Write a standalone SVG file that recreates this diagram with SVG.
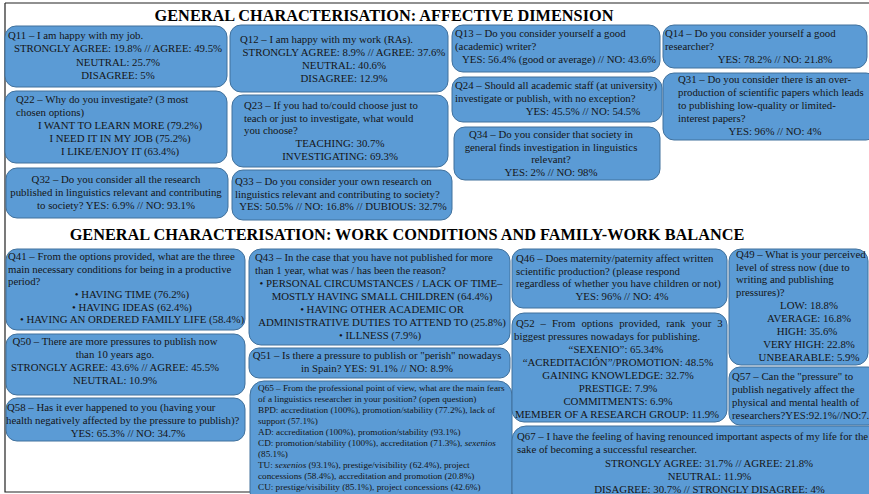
<svg xmlns="http://www.w3.org/2000/svg" width="869" height="494" viewBox="0 0 869 494">
<style>
.b{fill:#5b9bd5;stroke:#41719c;stroke-width:1}
text{font-family:"Liberation Serif","Times New Roman",serif;fill:#151515;font-size:10.8px}
.c{text-anchor:middle}
.s{font-size:9.2px}
.t{font-size:16.3px;font-weight:bold;text-anchor:middle;fill:#000}
.i{font-style:italic}
.fr{fill:none;stroke:#222;stroke-width:1.2}
</style>
<rect width="869" height="494" fill="#fff"/>
<path class="fr" d="M5,3 H869 M5,3 V492 H252"/>
<text class="t" x="384" y="21">GENERAL CHARACTERISATION: AFFECTIVE DIMENSION</text>
<text class="t" x="407" y="240">GENERAL CHARACTERISATION: WORK CONDITIONS AND FAMILY-WORK BALANCE</text>

<g id="Q11"><rect class="b" x="5" y="26" width="222" height="61" rx="11"/>
<text x="8" y="39">Q11 – I am happy with my job.</text>
<text class="c" x="118" y="52">STRONGLY AGREE: 19.8% // AGREE: 49.5%</text>
<text class="c" x="118" y="65.5">NEUTRAL: 25.7%</text>
<text class="c" x="118" y="78.5">DISAGREE: 5%</text></g>

<g id="Q22"><rect class="b" x="5" y="91" width="222" height="72" rx="11"/>
<text x="16" y="103">Q22 – Why do you investigate? (3 most</text>
<text x="16" y="116">chosen options)</text>
<text class="c" x="120" y="129">I WANT TO LEARN MORE (79.2%)</text>
<text class="c" x="120" y="142">I NEED IT IN MY JOB (75.2%)</text>
<text class="c" x="120" y="155">I LIKE/ENJOY IT (63.4%)</text></g>

<g id="Q32"><rect class="b" x="6" y="168" width="222" height="50" rx="11"/>
<text class="c" x="116" y="183">Q32 – Do you consider all the research</text>
<text class="c" x="116" y="196">published in linguistics relevant and contributing</text>
<text class="c" x="116" y="209">to society? YES: 6.9% // NO: 93.1%</text></g>

<g id="Q12"><rect class="b" x="230" y="25" width="218" height="67" rx="11"/>
<text x="240" y="43">Q12 – I am happy with my work (RAs).</text>
<text class="c" x="344" y="56">STRONGLY AGREE: 8.9% // AGREE: 37.6%</text>
<text class="c" x="344" y="69">NEUTRAL: 40.6%</text>
<text class="c" x="344" y="82">DISAGREE: 12.9%</text></g>

<g id="Q23"><rect class="b" x="232" y="95" width="216" height="72" rx="11"/>
<text x="244" y="109">Q23 – If you had to/could choose just to</text>
<text x="244" y="121.5">teach or just to investigate, what would</text>
<text x="244" y="134">you choose?</text>
<text class="c" x="340" y="147">TEACHING: 30.7%</text>
<text class="c" x="340" y="160">INVESTIGATING: 69.3%</text></g>

<g id="Q33"><rect class="b" x="232" y="170" width="220" height="50" rx="11"/>
<text x="235" y="185">Q33 – Do you consider your own research on</text>
<text x="235" y="197.5">linguistics relevant and contributing to society?</text>
<text class="c" x="343" y="210">YES: 50.5% // NO: 16.8% // DUBIOUS: 32.7%</text></g>

<g id="Q13"><rect class="b" x="452" y="25" width="208" height="47" rx="11"/>
<text x="455" y="37">Q13 – Do you consider yourself a good</text>
<text x="455" y="50">(academic) writer?</text>
<text class="c" x="559" y="63">YES: 56.4% (good or average) // NO: 43.6%</text></g>

<g id="Q24"><rect class="b" x="452" y="77" width="210" height="45" rx="11"/>
<text x="455" y="89">Q24 – Should all academic staff (at university)</text>
<text x="455" y="102">investigate or publish, with no exception?</text>
<text class="c" x="583" y="115">YES: 45.5% // NO: 54.5%</text></g>

<g id="Q34"><rect class="b" x="454" y="127" width="206" height="53" rx="11"/>
<text class="c" x="551" y="138">Q34 – Do you consider that society in</text>
<text class="c" x="551" y="150.5">general finds investigation in linguistics</text>
<text class="c" x="551" y="163">relevant?</text>
<text class="c" x="551" y="176">YES: 2% // NO: 98%</text></g>

<g id="Q14"><rect class="b" x="663" y="25" width="204" height="43" rx="11"/>
<text x="665" y="37">Q14 – Do you consider yourself a good</text>
<text x="665" y="50">researcher?</text>
<text class="c" x="775" y="63">YES: 78.2% // NO: 21.8%</text></g>

<g id="Q31"><rect class="b" x="663" y="73" width="214" height="67" rx="11"/>
<text x="678" y="83">Q31 – Do you consider there is an over-</text>
<text x="678" y="96">production of scientific papers which leads</text>
<text x="678" y="109">to publishing low-quality or limited-</text>
<text x="678" y="122">interest papers?</text>
<text class="c" x="775" y="135">YES: 96% // NO: 4%</text></g>

<g id="Q41"><rect class="b" x="6" y="249" width="239" height="81" rx="11"/>
<text x="8" y="260">Q41 – From the options provided, what are the three</text>
<text x="8" y="272.7">main necessary conditions for being in a productive</text>
<text x="8" y="285.4">period?</text>
<text class="c" x="132" y="298">• HAVING TIME (76.2%)</text>
<text class="c" x="132" y="310.7">• HAVING IDEAS (62.4%)</text>
<text class="c" x="132" y="323.4">• HAVING AN ORDERED FAMILY LIFE (58.4%)</text></g>

<g id="Q50"><rect class="b" x="6" y="334" width="239" height="61" rx="11"/>
<text class="c" x="115" y="345">Q50 – There are more pressures to publish now</text>
<text class="c" x="115" y="358">than 10 years ago.</text>
<text class="c" x="115" y="371">STRONGLY AGREE: 43.6% // AGREE: 45.5%</text>
<text class="c" x="115" y="384">NEUTRAL: 10.9%</text></g>

<g id="Q58"><rect class="b" x="6" y="398" width="239" height="43" rx="11"/>
<text x="7" y="411">Q58 – Has it ever happened to you (having your</text>
<text x="6" y="424">health negatively affected by the pressure to publish)?</text>
<text class="c" x="128" y="437">YES: 65.3% // NO: 34.7%</text></g>

<g id="Q43"><rect class="b" x="249" y="249" width="261" height="96" rx="12"/>
<text x="255" y="261">Q43 – In the case that you have not published for more</text>
<text x="255" y="274">than 1 year, what was / has been the reason?</text>
<text class="c" x="381" y="287">• PERSONAL CIRCUMSTANCES / LACK OF TIME–</text>
<text class="c" x="382" y="300">MOSTLY HAVING SMALL CHILDREN (64.4%)</text>
<text class="c" x="382" y="313">• HAVING OTHER ACADEMIC OR</text>
<text class="c" x="382" y="326">ADMINISTRATIVE DUTIES TO ATTEND TO (25.8%)</text>
<text class="c" x="380" y="339">• ILLNESS (7.9%)</text></g>

<g id="Q51"><rect class="b" x="249" y="348" width="261" height="30" rx="10"/>
<text class="c" x="377" y="359">Q51 – Is there a pressure to publish or "perish" nowadays</text>
<text class="c" x="377" y="372">in Spain? YES: 91.1% // NO: 8.9%</text></g>

<g id="Q65"><rect class="b" x="250" y="381" width="262" height="125" rx="14"/>
<text class="s" x="258" y="391">Q65 – From the professional point of view, what are the main fears</text>
<text class="s" x="258" y="402">of a linguistics researcher in your position? (open question)</text>
<text class="s" x="258" y="413">BPD: accreditation (100%), promotion/stability (77.2%), lack of</text>
<text class="s" x="258" y="424">support (57.1%)</text>
<text class="s" x="258" y="435">AD: accreditation (100%), promotion/stability (93.1%)</text>
<text class="s" x="258" y="446">CD: promotion/stability (100%), accreditation (71.3%), <tspan class="i">sexenios</tspan></text>
<text class="s" x="258" y="456.5">(85.1%)</text>
<text class="s" x="258" y="467.5">TU: <tspan class="i">sexenios</tspan> (93.1%), prestige/visibility (62.4%), project</text>
<text class="s" x="258" y="478.5">concessions (58.4%), accreditation and promotion (20.8%)</text>
<text class="s" x="258" y="489.5">CU: prestige/visibility (85.1%), project concessions (42.6%)</text></g>

<g id="Q46"><rect class="b" x="512" y="249" width="215" height="59" rx="11"/>
<text x="516" y="262">Q46 – Does maternity/paternity affect written</text>
<text x="516" y="274.5">scientific production? (please respond</text>
<text x="516" y="287">regardless of whether you have children or not)</text>
<text class="c" x="622" y="300">YES: 96% // NO: 4%</text></g>

<g id="Q52"><rect class="b" x="512" y="313" width="215" height="109" rx="12"/>
<text x="516" y="327" word-spacing="3.3">Q52 – From options provided, rank your 3</text>
<text x="514" y="340">biggest pressures nowadays for publishing.</text>
<text class="c" x="616" y="352.5">“SEXENIO”: 65.34%</text>
<text class="c" x="618" y="365.5">“ACREDITACIÓN”/PROMOTION: 48.5%</text>
<text class="c" x="618" y="378.5">GAINING KNOWLEDGE: 32.7%</text>
<text class="c" x="618" y="391.5">PRESTIGE: 7.9%</text>
<text class="c" x="618" y="404.5">COMMITMENTS: 6.9%</text>
<text class="c" x="617" y="417.5">MEMBER OF A RESEARCH GROUP: 11.9%</text></g>

<g id="Q67"><rect class="b" x="512" y="426" width="400" height="80" rx="14"/>
<text x="517" y="440">Q67 – I have the feeling of having renounced important aspects of my life for the</text>
<text x="517" y="453">sake of becoming a successful researcher.</text>
<text class="c" x="709" y="466.5">STRONGLY AGREE: 31.7% // AGREE: 21.8%</text>
<text class="c" x="709.5" y="479.5">NEUTRAL: 11.9%</text>
<text class="c" x="709.5" y="492.5">DISAGREE: 30.7% // STRONGLY DISAGREE: 4%</text></g>

<g id="Q49"><rect class="b" x="729" y="249" width="139" height="116" rx="12"/>
<text x="736" y="257.5">Q49 – What is your perceived</text>
<text x="736" y="270.5">level of stress now (due to</text>
<text x="736" y="283">writing and publishing</text>
<text x="736" y="296">pressures)?</text>
<text class="c" x="809" y="309">LOW: 18.8%</text>
<text class="c" x="809" y="322">AVERAGE: 16.8%</text>
<text class="c" x="807" y="335">HIGH: 35.6%</text>
<text class="c" x="809" y="348">VERY HIGH: 22.8%</text>
<text class="c" x="809" y="361">UNBEARABLE: 5.9%</text></g>

<g id="Q57"><rect class="b" x="729" y="367" width="150" height="58" rx="11"/>
<text x="732" y="380">Q57 – Can the "pressure" to</text>
<text x="732" y="393">publish negatively affect the</text>
<text x="732" y="406">physical and mental health of</text>
<text x="732" y="419">researchers?YES:92.1%//NO:7.9%</text></g>
</svg>
